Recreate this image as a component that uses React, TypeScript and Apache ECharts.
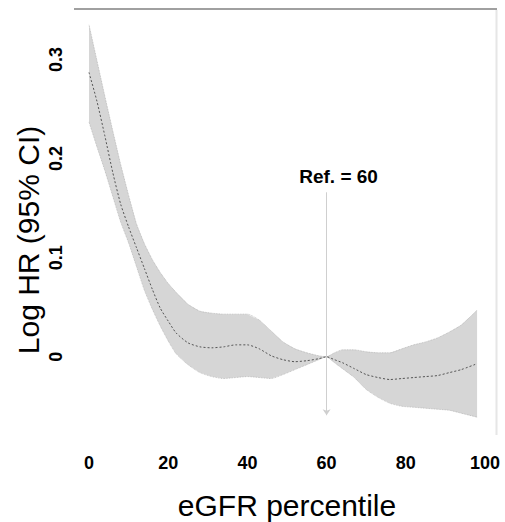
import React, { useEffect, useRef } from "react";
import * as echarts from "echarts";

const xs = [0, 2, 4, 6, 8, 10, 12, 14, 16, 18, 20, 22, 25, 28, 31, 34, 37, 40, 43, 46, 49, 52, 55, 58, 60, 62, 64, 67, 70, 73, 76, 79, 82, 85, 88, 91, 94, 98];
const meanV = [0.287, 0.258, 0.223, 0.186, 0.154, 0.131, 0.110, 0.089, 0.068, 0.049, 0.036, 0.024, 0.014, 0.010, 0.009, 0.010, 0.012, 0.012, 0.008, 0.001, -0.003, -0.005, -0.004, -0.002, 0, -0.003, -0.006, -0.012, -0.018, -0.021, -0.023, -0.022, -0.021, -0.020, -0.019, -0.016, -0.013, -0.007];
const upperV = [0.335, 0.299, 0.263, 0.228, 0.194, 0.163, 0.134, 0.114, 0.098, 0.085, 0.074, 0.065, 0.053, 0.046, 0.044, 0.043, 0.043, 0.043, 0.037, 0.026, 0.015, 0.008, 0.004, 0.001, 0, 0.004, 0.007, 0.007, 0.005, 0.004, 0.004, 0.008, 0.012, 0.015, 0.019, 0.025, 0.032, 0.047];
const lowerV = [0.237, 0.212, 0.188, 0.162, 0.136, 0.115, 0.091, 0.067, 0.048, 0.031, 0.016, 0.003, -0.008, -0.016, -0.020, -0.022, -0.021, -0.020, -0.021, -0.022, -0.018, -0.013, -0.008, -0.003, 0, -0.006, -0.012, -0.021, -0.033, -0.041, -0.047, -0.050, -0.051, -0.052, -0.053, -0.054, -0.057, -0.061];
const yTicks = [0, 0.1, 0.2, 0.3];
const xTickMarks = [40, 60];
const refX = 60;
const refTop = 0.166;
const refBottom = -0.059;
const refLabel = "Ref. = 60";

const FONT = "'Liberation Sans', Arial, sans-serif";

export default function App() {
  const ref = useRef<HTMLDivElement>(null);
  useEffect(() => {
    if (!ref.current) return;
    const chart = echarts.init(ref.current, undefined, { renderer: "svg" });
    const pair = (arr: number[]) => xs.map((x, i) => [x, arr[i]]);
    chart.setOption({
      animation: false,
      backgroundColor: "#fff",
      grid: { left: 89, right: 20, top: 10, bottom: 86, containLabel: false, outerBoundsMode: "none" },
      xAxis: {
        type: "value",
        min: 0,
        max: 100,
        interval: 20,
        name: "eGFR percentile",
        nameLocation: "middle",
        nameGap: 54,
        nameMoveOverlap: false,
        nameTextStyle: { fontFamily: FONT, fontSize: 30, lineHeight: 30, color: "#000" },
        axisLine: { show: true, lineStyle: { color: "rgba(0,0,0,0)" } },
        axisTick: { show: true, customValues: xTickMarks, length: 7, lineStyle: { color: "#bbb", width: 1 } },
        splitLine: { show: false },
        axisLabel: { margin: 18, fontFamily: FONT, fontSize: 18, fontWeight: "bold", color: "#000" },
      },
      yAxis: {
        type: "value",
        min: -0.08,
        max: 0.35,
        name: "Log HR (95% CI)",
        nameLocation: "middle",
        nameRotate: 90,
        nameGap: 46,
        nameMoveOverlap: false,
        nameTextStyle: { fontFamily: FONT, fontSize: 30, color: "#000", padding: [0, 34, 0, 0] },
        axisLine: { show: false },
        axisTick: { show: false },
        splitLine: { show: false },
        axisLabel: {
          customValues: yTicks,
          rotate: 90,
          margin: 24,
          fontFamily: FONT,
          fontSize: 18,
          fontWeight: "bold",
          color: "#000",
          formatter: (v: number) => (v === 0 ? "0" : v.toFixed(1)),
        },
      },
      graphic: [
        { type: "line", shape: { x1: 74, y1: 9, x2: 497, y2: 9 }, style: { stroke: "#808080", lineWidth: 1.6 }, z: 10 },
        { type: "line", shape: { x1: 496.5, y1: 10, x2: 496.5, y2: 435 }, style: { stroke: "#e6e6e6", lineWidth: 2 }, z: 10 },
      ],
      series: [
        {
          type: "custom",
          coordinateSystem: "cartesian2d",
          data: [[0, 0]],
          silent: true,
          z: 1,
          renderItem: (_params: any, api: any) => {
            const pts: number[][] = [];
            for (let i = 0; i < xs.length; i++) pts.push(api.coord([xs[i], upperV[i]]));
            for (let i = xs.length - 1; i >= 0; i--) pts.push(api.coord([xs[i], lowerV[i]]));
            return { type: "polygon", shape: { points: pts }, style: { fill: "#d6d6d6", stroke: "none" } };
          },
        },
        {
          type: "line",
          data: pair(upperV),
          showSymbol: false,
          smooth: 0.2,
          z: 2,
          lineStyle: { color: "#b4b4b4", width: 0.8, type: "dotted" },
        },
        {
          type: "line",
          data: pair(lowerV),
          showSymbol: false,
          smooth: 0.2,
          z: 2,
          lineStyle: { color: "#b4b4b4", width: 0.8, type: "dotted" },
        },
        {
          type: "line",
          data: pair(meanV),
          showSymbol: false,
          smooth: 0.2,
          z: 3,
          lineStyle: { color: "#555", width: 1, type: [2, 2] },
          markLine: {
            silent: true,
            symbol: ["none", "arrow"],
            symbolSize: [6, 6],
            lineStyle: { color: "#cfcfcf", width: 1, type: "solid" },
            label: {
              show: true,
              position: "start",
              formatter: refLabel,
              fontFamily: FONT,
              fontSize: 19,
              fontWeight: "bold",
              color: "#000",
              distance: 6,
              padding: [0, 0, 0, 24],
            },
            data: [[{ coord: [refX, refTop] }, { coord: [refX, refBottom] }]],
          },
        },
      ],
    });
    return () => chart.dispose();
  }, []);
  return <div ref={ref} style={{ position: "fixed", left: 0, top: 0, width: 505, height: 522 }} />;
}
